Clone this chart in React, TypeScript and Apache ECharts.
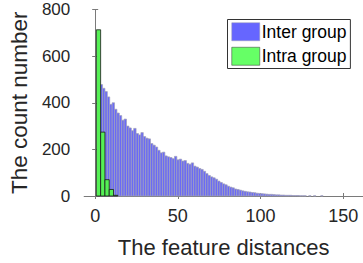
import React, { useEffect, useRef } from "react";
import * as echarts from "echarts";

const xTicks = [0, 50, 100, 150];
const yTicks = [0, 200, 400, 600, 800];

// Inter group histogram: bins start at 3.0, width 1.45
const interStart = 3.0;
const interWidth = 1.45;
const interCounts = [
  478, 462, 448, 425, 393, 400, 372, 356, 345, 325,
  330, 300, 292, 280, 290, 268, 262, 272, 255, 248,
  245, 225, 218, 210, 196, 185, 188, 172, 168, 165,
  160, 170, 155, 158, 150, 152, 140, 136, 142, 128,
  124, 118, 114, 106, 96, 88, 82, 78, 72, 64,
  58, 52, 48, 42, 38, 35, 30, 28, 25, 22,
  20, 18, 17, 15, 14, 12, 11, 10, 9, 8,
  7, 7, 6, 5, 5, 4, 4, 3, 3, 3,
  2, 2, 2, 1, 1, 1, 0, 1, 0, 1,
  0, 0, 1, 0, 0, 0, 0, 0, 0, 0,
];

// Intra group histogram: bin edges and counts
const intraEdges = [0.7, 3.3, 5.9, 8.5, 11.1, 13.7];
const intraCounts = [713, 274, 70, 28, 3];

const seriesNames = ["Inter group", "Intra group"];

export default function App() {
  const ref = useRef<HTMLDivElement>(null);
  useEffect(() => {
    if (!ref.current) return;
    const chart = echarts.init(ref.current, undefined, { renderer: "svg" });
    const interData = interCounts.map((c, i) => [
      interStart + i * interWidth,
      interStart + (i + 1) * interWidth,
      c,
    ]);
    const intraData = intraCounts.map((c, i) => [intraEdges[i], intraEdges[i + 1], c]);

    const makeRender = (fill: string, stroke: string, lw: number) => (params: any, api: any) => {
      const x0 = api.value(0);
      const x1 = api.value(1);
      const y = api.value(2);
      if (y <= 0) return null;
      const p0 = api.coord([x0, y]);
      const p1 = api.coord([x1, 0]);
      return {
        type: "rect",
        shape: { x: p0[0], y: p0[1], width: p1[0] - p0[0], height: p1[1] - p0[1] },
        style: { fill, stroke, lineWidth: lw },
      };
    };

    const font = "'Liberation Sans', Arial, Helvetica, sans-serif";
    const axisColor = "#7a7a7a";
    const labelColor = "#262626";

    chart.setOption({
      animation: false,
      backgroundColor: "#fff",
      grid: { left: 82.5, top: 9.5, width: 281.5, height: 190.8, containLabel: false },
      legend: {
        orient: "vertical",
        left: 227.5,
        top: 19.5,
        padding: [3, 4, 3, 4],
        itemWidth: 28,
        itemHeight: 18,
        itemGap: 6,
        borderColor: "#333",
        borderWidth: 1,
        borderRadius: 0,
        backgroundColor: "#fff",
        textStyle: { fontSize: 17.5, fontFamily: font, color: "#000", padding: [0, 0, 0, -3] },
        data: [
          { name: seriesNames[0], icon: "rect", itemStyle: { color: "#6666ff", borderColor: "#9a9ab0", borderWidth: 0.5 } },
          { name: seriesNames[1], icon: "rect", itemStyle: { color: "#66ff66", borderColor: "#333", borderWidth: 0.5 } },
        ],
      },
      xAxis: [
        {
          type: "value",
          min: -6.6,
          max: 162,
          position: "bottom",
          name: "The feature distances",
          nameLocation: "middle",
          nameGap: 40,
          nameTextStyle: { fontSize: 22, fontFamily: font, color: labelColor },
          axisLine: { show: true, lineStyle: { color: axisColor, width: 1 } },
          axisTick: { show: true, inside: true, length: 3, lineStyle: { color: axisColor }, customValues: xTicks },
          axisLabel: { fontSize: 18, fontFamily: font, color: labelColor, margin: 11, customValues: xTicks },
          splitLine: { show: false },
        },
        {
          type: "value",
          min: -6.6,
          max: 162,
          position: "top",
          axisLine: { show: true, lineStyle: { color: axisColor, width: 1 } },
          axisTick: { show: true, inside: true, length: 3, lineStyle: { color: axisColor }, customValues: xTicks },
          axisLabel: { show: false },
          splitLine: { show: false },
        },
      ],
      yAxis: [
        {
          type: "value",
          min: 0,
          max: 800,
          interval: 200,
          position: "left",
          name: "The count number",
          nameLocation: "middle",
          nameGap: 48,
          nameTextStyle: { fontSize: 22.5, fontFamily: font, color: labelColor },
          axisLine: { show: true, lineStyle: { color: axisColor, width: 1 } },
          axisTick: { show: true, inside: true, length: 3, lineStyle: { color: axisColor } },
          axisLabel: { fontSize: 17, fontFamily: font, color: labelColor, margin: 14 },
          splitLine: { show: false },
        },
        {
          type: "value",
          min: 0,
          max: 800,
          interval: 200,
          position: "right",
          axisLine: { show: true, lineStyle: { color: axisColor, width: 1 } },
          axisTick: { show: true, inside: true, length: 3, lineStyle: { color: axisColor } },
          axisLabel: { show: false },
          splitLine: { show: false },
        },
      ],
      series: [
        {
          name: seriesNames[0],
          type: "custom",
          xAxisIndex: 0,
          yAxisIndex: 0,
          renderItem: makeRender("#6a6af6", "#a0a0b8", 0.7),
          itemStyle: { color: "#6666ff" },
          encode: { x: [0, 1], y: 2 },
          data: interData,
          z: 2,
        },
        {
          name: seriesNames[1],
          type: "custom",
          xAxisIndex: 0,
          yAxisIndex: 0,
          renderItem: makeRender("#55f055", "#1a1a1a", 0.8),
          itemStyle: { color: "#66ff66" },
          encode: { x: [0, 1], y: 2 },
          data: intraData,
          z: 3,
        },
      ],
    });
    return () => chart.dispose();
  }, []);
  return (
    <div
      ref={ref}
      style={{ position: "fixed", left: 0, top: 0, width: 363, height: 263 }}
    />
  );
}
